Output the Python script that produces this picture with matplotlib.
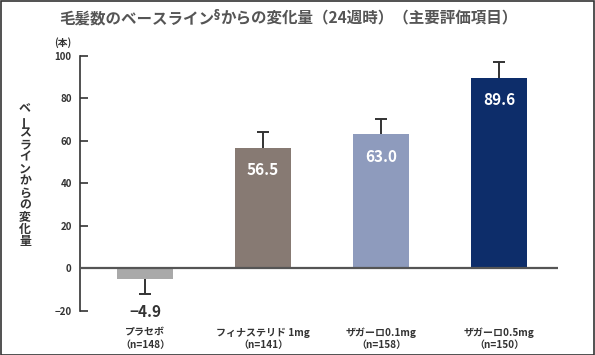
import matplotlib
matplotlib.use("Agg")
import matplotlib.pyplot as plt
from matplotlib.patches import Rectangle

plt.rcParams['font.family'] = ['Noto Sans CJK JP', 'DejaVu Sans']

categories = ["プラセボ\n（n=148）", "フィナステリド 1mg\n（n=141）", "ザガーロ0.1mg\n（n=158）", "ザガーロ0.5mg\n（n=150）"]
values = [-4.9, 56.5, 63.0, 89.6]
errors = [7.1, 7.8, 7.3, 7.4]
value_labels = ["−4.9", "56.5", "63.0", "89.6"]
colors = ["#a9a9a9", "#877a73", "#8e9bbd", "#0d2d6a"]
yticks = [-20, 0, 20, 40, 60, 80, 100]
ytick_labels = ["−20", "0", "20", "40", "60", "80", "100"]
title_left = "毛髪数のベースライン"
title_mark = "§"
title_right = "からの変化量（24週時）（主要評価項目）"
ylabel = "ベースラインからの変化量"
unit = "(本)"

W, H = 595, 355
fig = plt.figure(figsize=(W / 100, H / 100), dpi=100)
fig.patch.set_facecolor("white")
fig.add_artist(Rectangle((0.5 / W, 0.5 / H), 1 - 1.5 / W, 1 - 1.5 / H, transform=fig.transFigure,
                         fill=False, edgecolor="#333333", linewidth=1.2))

ax = fig.add_axes([80 / W, 1 - 311.0 / H, 478 / W, (311.0 - 55.7) / H])
x = list(range(len(values)))
ax.bar(x, values, width=0.475, color=colors, zorder=3)

# one-sided error bars
ends = [v + (e if v >= 0 else -e) for v, e in zip(values, errors)]
for xi, v, end in zip(x, values, ends):
    ax.errorbar([xi], [v], yerr=[[max(v - end, 0)], [max(end - v, 0)]], fmt="none",
                ecolor="#333333", elinewidth=1.4, capsize=0, zorder=2)
ax.plot(x, ends, linestyle="none", marker="_", markersize=9, markeredgewidth=1.4,
        color="#333333", zorder=2)

ax.axhline(0, color="#555555", linewidth=1.6, zorder=4)

for xi, v, lab in zip(x, values, value_labels):
    if v >= 0:
        ax.annotate(lab, (xi, v), xytext=(0, -16), textcoords="offset points",
                    ha="center", va="center", color="white", fontsize=11, fontweight="bold", zorder=5)
    else:
        ax.annotate(lab, (xi, v), xytext=(0, -24), textcoords="offset points",
                    ha="center", va="center", color="#333333", fontsize=11, fontweight="bold", zorder=5)

ax.set_xlim(-0.551, 3.5)
ax.set_ylim(-20, 100)
ax.set_yticks(yticks)
ax.set_yticklabels(ytick_labels, fontsize=7, fontweight="bold", color="#333333")
ax.tick_params(axis="y", direction="in", length=6, width=1.2, color="#333333", pad=6)
ax.set_xticks(x)
ax.set_xticklabels(categories, fontsize=7.2, fontweight="bold", color="#333333", linespacing=1.25)
ax.tick_params(axis="x", length=0, pad=12)
for s in ["top", "right", "bottom"]:
    ax.spines[s].set_visible(False)
ax.spines["left"].set_color("#333333")
ax.spines["left"].set_linewidth(1.2)

fig.text(63 / W, 1 - 43 / H, unit, ha="center", va="center", fontsize=7, fontweight="bold", color="#333333")

# vertical (tategaki) y label
y0, step = 109, 12.0
for i, ch in enumerate(ylabel):
    rot = 90 if ch == "ー" else 0
    fig.text(25 / W, 1 - (y0 + i * step) / H, ch, ha="center", va="center", fontsize=8.6,
             fontweight="bold", color="#333333", rotation=rot)

# title with superscript mark
tcol = "#555555"
t1 = fig.text(0, 1 - 18 / H, title_left, ha="left", va="center", fontsize=11.2, fontweight="bold", color=tcol)
t2 = fig.text(0, 1 - 15 / H, title_mark, ha="left", va="center", fontsize=8.5, fontweight="bold",
              color=tcol, family="Liberation Sans Narrow")
t3 = fig.text(0, 1 - 18 / H, title_right, ha="left", va="center", fontsize=11.2, fontweight="bold", color=tcol)
r = fig.canvas.get_renderer()
w1 = t1.get_window_extent(r).width
w2 = t2.get_window_extent(r).width
w3 = t3.get_window_extent(r).width
total = w1 + w2 + w3
start = 288.5 - total / 2
t1.set_x(start / W)
t2.set_x((start + w1) / W)
t3.set_x((start + w1 + w2) / W)

fig.savefig("out.png", dpi=100)
